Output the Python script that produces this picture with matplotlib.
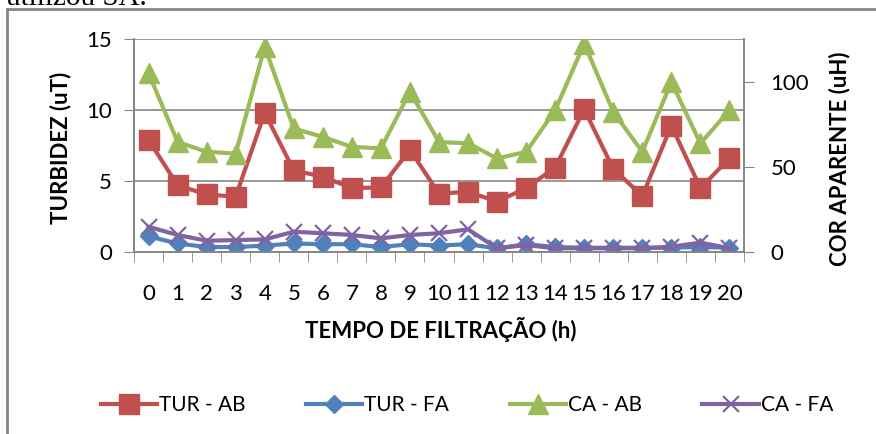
import matplotlib.pyplot as plt
from matplotlib.lines import Line2D

# dados
horas = list(range(21))
tur_ab = [7.9, 4.7, 4.05, 3.9, 9.8, 5.75, 5.3, 4.5, 4.55, 7.2, 4.1, 4.25,
          3.55, 4.5, 5.95, 10.05, 5.85, 3.95, 8.9, 4.5, 6.6]
tur_fa = [1.1, 0.6, 0.35, 0.35, 0.45, 0.6, 0.55, 0.55, 0.35, 0.55, 0.45, 0.55,
          0.25, 0.55, 0.35, 0.3, 0.3, 0.3, 0.3, 0.35, 0.3]
ca_ab = [105, 64.6, 58.8, 57.8, 120.5, 72.5, 67.5, 61.7, 60.8, 94, 64.5, 63.8,
         54.9, 58.8, 83.2, 122.3, 82.2, 58.8, 99.8, 63.7, 83.2]
ca_fa = [14.8, 10, 6.6, 7, 7.4, 11.9, 11, 10, 8, 10, 11, 13.3,
         2.2, 4.1, 2.2, 2.2, 2.2, 2.2, 3.1, 5.5, 2.2]

vermelho = '#C0504D'
azul = '#4F81BD'
verde = '#9BBB59'
roxo = '#8064A2'
cinza = '#868686'

plt.rcParams['font.family'] = ['Lato', 'DejaVu Sans']
fs = 16

fig = plt.figure(figsize=(8.76, 4.34), dpi=100)
ax = fig.add_axes([134 / 876, 1 - 252 / 434, 610 / 876, 213 / 434])
ax2 = ax.twinx()

l1, = ax.plot(horas, tur_ab, color=vermelho, lw=3, marker='s', ms=14, label='TUR - AB')
l2, = ax.plot(horas, tur_fa, color=azul, lw=3, marker='D', ms=9.5, label='TUR - FA')
l3, = ax2.plot(horas, ca_ab, color=verde, lw=3, marker='^', ms=15, label='CA - AB')
l4, = ax2.plot(horas, ca_fa, color=roxo, lw=3, marker='x', ms=12, mew=1.6, label='CA - FA')

ax.set_xlim(-0.5, 20.5)
ax.set_ylim(0, 15)
ax.set_yticks([0, 5, 10, 15])
ax2.set_ylim(0, 125)
ax2.set_yticks([0, 50, 100])

ax.set_xticks(horas)
ax.set_xticks([h + 0.5 for h in range(-1, 21)], minor=True)
ax.tick_params(axis='x', which='major', length=0, pad=23, labelsize=fs)
ax.tick_params(axis='x', which='minor', length=7, color=cinza, direction='out')
ax.tick_params(axis='y', length=7, color=cinza, pad=9, labelsize=fs)
ax2.tick_params(axis='y', length=7, color=cinza, pad=12, labelsize=fs)

ax.yaxis.grid(True, color=cinza, lw=1.2)
ax.set_axisbelow(True)
for a in (ax, ax2):
    for s in a.spines.values():
        s.set_color(cinza)
        s.set_linewidth(1.2)
    a.spines['top'].set_visible(False)

ax.set_xlabel('TEMPO DE FILTRAÇÃO (h)', fontsize=fs, fontweight='bold')
ax.xaxis.set_label_coords(0.503, -0.305)
ax.set_ylabel('TURBIDEZ (uT)', fontsize=fs, fontweight='bold')
ax.yaxis.set_label_coords(-0.102, 0.49)
ax2.set_ylabel('COR APARENTE (uH)', fontsize=fs, fontweight='bold')
ax2.yaxis.set_label_coords(1.138, 0.437)

fig.legend(handles=[l1, l2, l3, l4], loc='center', ncol=4, frameon=False,
           bbox_to_anchor=(467 / 876, 1 - 405 / 434), fontsize=15,
           handlelength=2.7, handletextpad=0.1, columnspacing=2.9)

# moldura do gráfico e texto cortado do documento
fig.add_artist(Line2D([7 / 876, 7 / 876], [0, 1 - 9 / 434], color=cinza, lw=2))
fig.add_artist(Line2D([7 / 876, 1], [1 - 9 / 434, 1 - 9 / 434], color=cinza, lw=2))
fig.text(6 / 876, 1 - 5 / 434, 'utilizou SA.', fontsize=21, va='baseline',
         family='Liberation Serif')

fig.savefig('out.png', dpi=100)
